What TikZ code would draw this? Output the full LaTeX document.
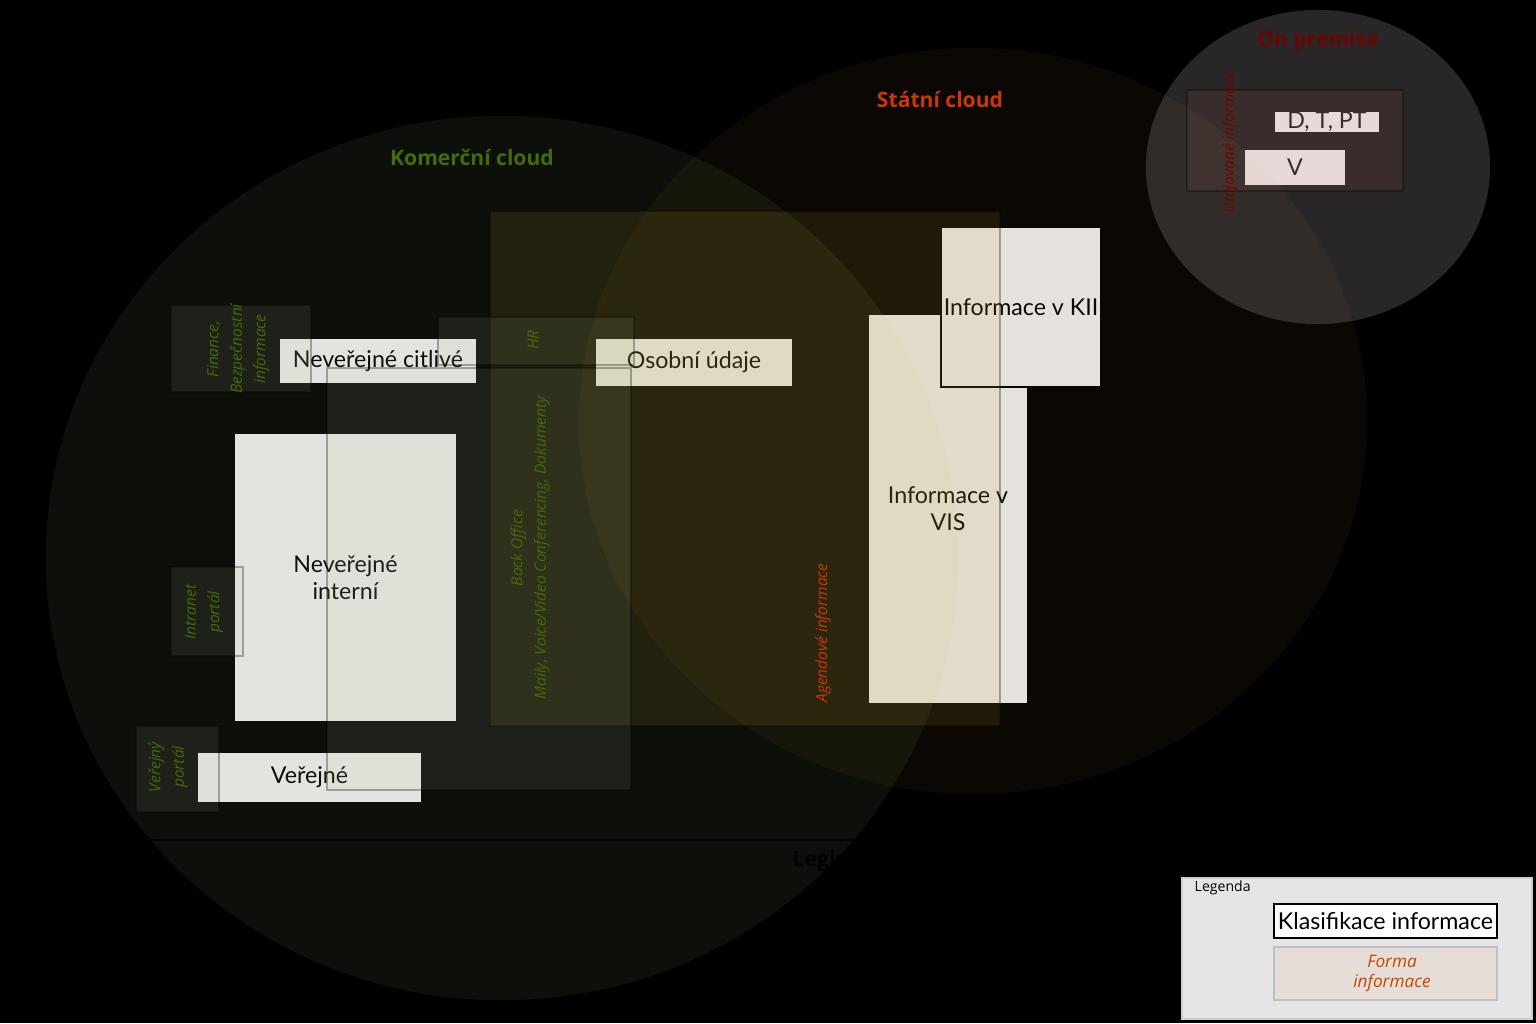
\documentclass[tikz,border=0pt]{standalone}
\usepackage{fontspec}
\setmainfont{Open Sans}
\newfontfamily\klasfont{Lato}
\usetikzlibrary{positioning}
\definecolor{komgreen}{RGB}{70,105,10}
\definecolor{statred}{RGB}{205,55,5}
\definecolor{premred}{RGB}{110,5,5}
\definecolor{formaorange}{RGB}{200,70,0}
\definecolor{boxgray}{RGB}{230,230,230}
\definecolor{komfill}{RGB}{186,229,143}
\definecolor{statfill}{RGB}{220,140,40}
\definecolor{premfill}{RGB}{250,240,240}
\definecolor{agendafill}{RGB}{210,178,50}
\definecolor{formgray}{RGB}{180,190,160}
\definecolor{utajfill}{RGB}{200,110,100}
\definecolor{legendfill}{RGB}{229,229,229}
\definecolor{formafill}{RGB}{229,221,216}
\tikzset{
  klas/.style={draw=black, line width=0.6pt, fill=boxgray, inner sep=0pt, align=center,
    font=\klasfont\fontsize{6.6}{7.7}\selectfont},
  forma/.style={draw=black, draw opacity=0.3, fill=formgray, fill opacity=0.1},
  formlabel/.style={rotate=90, align=center, text=komgreen,
    font=\itshape\fontsize{4.4}{6.7}\selectfont},
  cloudtitle/.style={font=\bfseries\fontsize{6}{7.7}\selectfont}
}
\begin{document}
\begin{tikzpicture}[x=0.01cm, y=-0.01cm]
  \useasboundingbox (0,0) rectangle (1536,1023);
  \fill[black] (0,0) rectangle (1536,1023);
  \node[klas, minimum width=1.98cm, minimum height=0.46cm] (citlive) at (378,361) {Neveřejné citlivé};
  \node[klas, minimum width=1.98cm, minimum height=0.49cm] (osobni) at (694,362.5) {Osobní údaje};
  \node[klas, minimum width=2.23cm, minimum height=2.89cm] (interni) at (345.5,577.5) {Neveřejné\\interní};
  \node[klas, minimum width=2.25cm, minimum height=0.51cm] (verejne) at (309.5,777.5) {Veřejné};
  \node[klas, minimum width=1.6cm, minimum height=3.9cm] (vis) at (948,509) {Informace v\\VIS};
  \node[klas, minimum width=1.6cm, minimum height=1.6cm] (kii) at (1021,307) {Informace v KII};
  \node[klas, minimum width=1.06cm, minimum height=0.22cm] (dtpt) at (1327,122) {D, T, PT};
  \node[klas, minimum width=1.02cm, minimum height=0.37cm] (vbox) at (1295,167.5) {V};
  \fill[komfill, fill opacity=0.07] (502,558) ellipse [x radius=4.56cm, y radius=4.42cm];
  \fill[statfill, fill opacity=0.05] (973,421) ellipse [x radius=3.94cm, y radius=3.73cm];
  \fill[premfill, fill opacity=0.16] (1318,167) ellipse [x radius=1.72cm, y radius=1.57cm];
  \draw[forma, fill=agendafill, fill opacity=0.11] (490,211) rectangle (1000,726);
  \draw[forma, fill=utajfill] (1187,90) rectangle (1403,191);
  \foreach \xa/\ya/\xb/\yb in {171/305/311/392, 438/317/634/365, 327/368/631/790, 171/567/243/656, 136/726/219/812}
    \draw[forma] (\xa,\ya) rectangle (\xb,\yb);
  \node[formlabel] (finance) at (238,349) {Finance,\\Bezpečnostní\\informace};
  \node[formlabel] (hr) at (533,340) {HR};
  \node[formlabel] (backoffice) at (530,548) {Back Office\\Maily, Voice/Video Conferencing, Dokumenty};
  \node[formlabel] (intranet) at (204,612) {Intranet\\portál};
  \node[formlabel] (portal) at (168,767) {Veřejný\\portál};
  \node[formlabel, text=statred] (agenda) at (823,633) {Agendové informace};
  \node[formlabel, text=premred] (utaj) at (1230,142) {Utajované informace};
  \node[cloudtitle, text=komgreen] (komercni) at (472,158) {Komerční cloud};
  \node[cloudtitle, text=statred] (statni) at (940,100) {Státní cloud};
  \node[cloudtitle, text=premred] (onprem) at (1318,41) {On premise};
  \coordinate (legl) at (145,840);
  \coordinate (legr) at (857,840);
  \draw[line width=0.6pt] (legl) -- (legr);
  \node[cloudtitle, text=black, anchor=west, inner sep=0pt] (legis) at (792,861) {Legislativa};
  \node[draw=gray!40, fill=legendfill, minimum width=3.5cm, minimum height=1.41cm] (legend) at (1357,948.5) {};
  \node[anchor=west, inner sep=0pt, font=\fontsize{4}{5}\selectfont] (legtitle) at (1194,888) {Legenda};
  \node[klas, fill=white, minimum width=2.23cm, minimum height=0.34cm] (legklas) at (1385.5,921) {Klasifikace informace};
  \node[draw=gray!50, fill=formafill, minimum width=2.23cm, minimum height=0.53cm] (legforma) at (1385.5,973.5) {};
  \node[align=center, text=formaorange, font=\itshape\fontsize{4.9}{5.7}\selectfont] (legformatext) at (1392,973.5) {Forma\\informace};
\end{tikzpicture}
\end{document}
